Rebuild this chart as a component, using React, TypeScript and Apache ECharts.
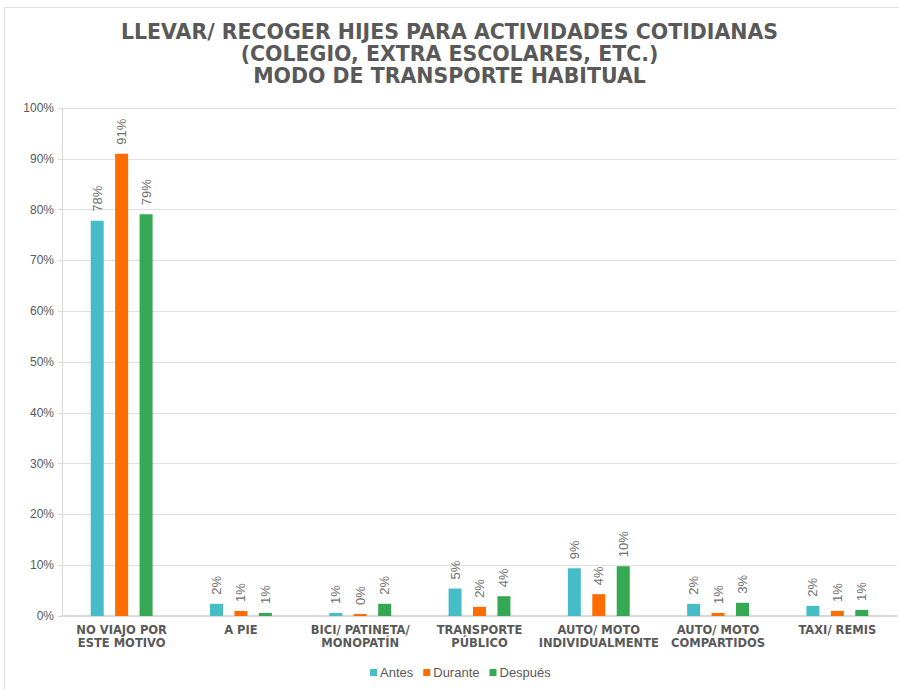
import React, { useEffect, useRef } from "react";
import * as echarts from "echarts";

const categories = [
  "NO VIAJO POR\nESTE MOTIVO",
  "A PIE",
  "BICI/ PATINETA/\nMONOPATÍN",
  "TRANSPORTE\nPÚBLICO",
  "AUTO/ MOTO\nINDIVIDUALMENTE",
  "AUTO/ MOTO\nCOMPARTIDOS",
  "TAXI/ REMIS",
];
const antes = [77.8, 2.4, 0.6, 5.4, 9.4, 2.4, 2.0];
const durante = [91.0, 1.0, 0.4, 1.8, 4.3, 0.6, 1.0];
const despues = [79.1, 0.6, 2.4, 3.9, 9.8, 2.6, 1.2];
const seriesNames = ["Antes", "Durante", "Después"];
const colors = ["#46BDC6", "#FF6D01", "#34A853"];
const titleText =
  "LLEVAR/ RECOGER HIJES PARA ACTIVIDADES COTIDIANAS\n(COLEGIO, EXTRA ESCOLARES, ETC.)\nMODO DE TRANSPORTE HABITUAL";

export default function App() {
  const ref = useRef<HTMLDivElement>(null);
  useEffect(() => {
    if (!ref.current) return;
    const chart = echarts.init(ref.current, null, { renderer: "svg" });
    const font = "'Liberation Sans', Arial, sans-serif";
    const mk = (name: string, data: number[], color: string) => ({
      name,
      type: "bar",
      data,
      barWidth: 13,
      barGap: "88%",
      itemStyle: { color },
      label: {
        show: true,
        position: "top",
        rotate: 90,
        align: "left",
        verticalAlign: "middle",
        distance: 9,
        color: "#6f6f6f",
        fontSize: 13,
        fontFamily: font,
        formatter: (p: any) => Math.round(p.value) + "%",
      },
    });
    chart.setOption({
      animation: false,
      backgroundColor: "#ffffff",
      title: {
        text: titleText,
        left: "center",
        top: 16,
        textStyle: {
          fontFamily: "'DejaVu Sans', sans-serif",
          fontWeight: "bold",
          fontSize: 20.5,
          lineHeight: 22,
          color: "#595959",
        },
      },
      grid: { left: 62, right: 2, top: 108, bottom: 74 },
      legend: {
        bottom: 6,
        left: 365,
        itemWidth: 7,
        itemHeight: 7,
        itemGap: 10,
        icon: "rect",
        textStyle: { color: "#595959", fontSize: 13, fontFamily: font, padding: [0, 0, 0, -2] },
        data: seriesNames,
      },
      xAxis: {
        type: "category",
        data: categories,
        axisLine: { show: true, lineStyle: { color: "#d9d9d9", width: 2 } },
        axisTick: { show: false },
        axisLabel: {
          interval: 0,
          margin: 7,
          color: "#595959",
          fontWeight: "bold",
          fontSize: 11.5,
          lineHeight: 13,
          fontFamily: "'DejaVu Sans', sans-serif",
        },
      },
      yAxis: {
        type: "value",
        min: 0,
        max: 100,
        interval: 10,
        axisLine: { show: true, lineStyle: { color: "#d9d9d9" } },
        axisTick: { show: true, length: 4, lineStyle: { color: "#d9d9d9" } },
        splitLine: { lineStyle: { color: "#e0e0e0" } },
        axisLabel: {
          formatter: "{value}%",
          color: "#595959",
          fontSize: 12,
          margin: 8,
          fontFamily: font,
        },
      },
      graphic: [
        {
          type: "rect",
          shape: { x: 4.5, y: 7.5, width: 900, height: 690 },
          style: { fill: "none", stroke: "#e0e0e0", lineWidth: 1 },
          silent: true,
        },
      ],
      series: [
        mk(seriesNames[0], antes, colors[0]),
        mk(seriesNames[1], durante, colors[1]),
        mk(seriesNames[2], despues, colors[2]),
      ],
    });
    return () => chart.dispose();
  }, []);
  return (
    <div
      ref={ref}
      style={{ position: "absolute", left: 0, top: 0, width: 899, height: 690 }}
    />
  );
}
